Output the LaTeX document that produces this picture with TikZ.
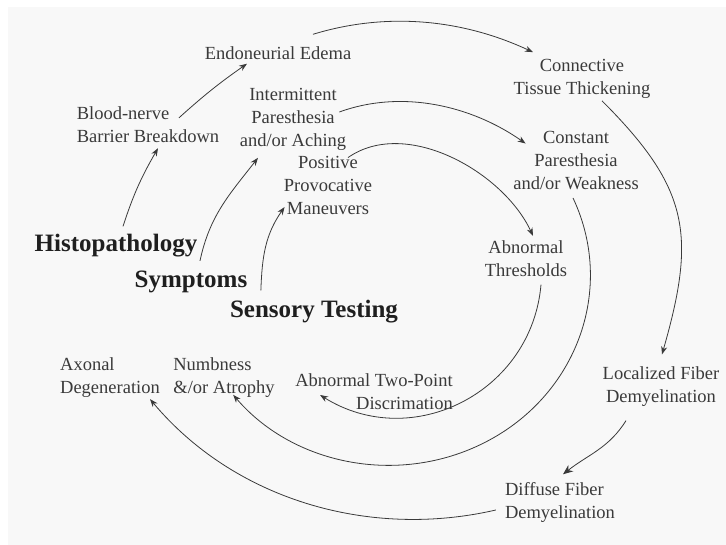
\documentclass[tikz,border=0pt]{standalone}
\usepackage{fontspec}
\setmainfont{Liberation Serif}
\usetikzlibrary{arrows.meta}
\definecolor{ink}{HTML}{3A3A3A}
\definecolor{paper}{HTML}{F8F8F8}
\tikzset{
	stage/.style={text=ink, align=center, inner sep=1pt, font=\fontsize{18.5}{23}\selectfont},
	track/.style={text=black!88, inner sep=1pt, font=\fontsize{25}{28}\selectfont\bfseries},
	flow/.style={draw=ink, line width=0.8pt, -{Stealth[length=8pt,width=6pt]}},
}

\begin{document}
\begin{tikzpicture}[x=1pt, y=1pt]
		\fill[white] (0,0) rectangle (726,-545);
		\fill[paper] (8,-7) rectangle (726,-545);
		\useasboundingbox (0,0) rectangle (726,-545);
		% outer ring
		\node[track](histo) at (116,-246){Histopathology};
		\node[stage, align=left](blood) at (148,-125){Blood-nerve\\Barrier Breakdown};
		\node[stage](endo) at (278,-53){Endoneurial Edema};
		\node[stage](conn) at (582,-79){Connective\\Tissue Thickening};
		\node[stage](local) at (661,-387){Localized Fiber\\Demyelination};
		\node[stage, align=left](diffu) at (560,-502){Diffuse Fiber\\Demyelination};
		\node[stage, align=left](axon) at (110,-378){Axonal\\Degeneration};
		% middle ring
		\node[track](sympt) at (191,-282){Symptoms};
		\node[stage](inter) at (293,-119){Intermittent\\Paresthesia\\and/or Aching};
		\node[stage](const) at (576,-161){Constant\\Paresthesia\\and/or Weakness};
		\node[stage, align=left](numb) at (224,-378){Numbness\\\&/or Atrophy};
		% inner ring
		\node[track](senso) at (314,-312){Sensory Testing};
		\node[stage](posit) at (328,-185){Positive\\Provocative\\Maneuvers};
		\node[stage](thres) at (526,-259){Abnormal\\Thresholds};
		\node[stage, align=right](twopt) at (374,-392){Abnormal Two-Point\\Discrimation};
		% outer arrows
		\draw[flow] ([shift={(7,7)}]histo.north) to[out=72, in=-120] ([shift={(10,-4)}]blood.south);
		\draw[flow] ([shift={(31,-12)}]blood.north) to[out=42, in=-145] ([shift={(-31,-3)}]endo.south);
		\draw[flow] ([shift={(35,11)}]endo.north) to[out=17, in=155, looseness=0.9] ([shift={(-49,6)}]conn.north);
		\draw[flow] ([shift={(20,-1)}]conn.south) to[out=-45, in=74, looseness=1.22] ([shift={(1,11.5)}]local.north);
		\draw[flow, -{Stealth[length=10pt,width=8pt]}] ([shift={(-35,-12.5)}]local.south) to[out=-122, in=38] ([shift={(3,6.5)}]diffu.north);
		\draw[flow] ([shift={(-8,-8)}]diffu.west) to[out=-167, in=-50, looseness=0.92] ([shift={(40,0)}]axon.south);
		% middle arrows
		\draw[flow] ([shift={(9,9)}]sympt.north) to[out=78, in=-128] ([shift={(-35,-6.5)}]inter.south);
		\draw[flow] ([shift={(-8,7)}]inter.east) to[out=20, in=145, looseness=0.9] ([shift={(13.5,-13)}]const.north west);
		\draw[flow] ([shift={(-3,-6.5)}]const.south) arc[start angle=24, end angle=-141, x radius=201, y radius=190];
		% inner arrows
		\draw[flow] ([shift={(32,9)}]senso.north west) to[out=88, in=-125] ([shift={(2,-22)}]posit.west);
		\draw[flow] ([shift={(20,-3)}]posit.north) to[out=35, in=115, looseness=0.9] ([shift={(7,4)}]thres.north);
		\draw[flow] ([shift={(15,-6.5)}]thres.south) to[out=-95, in=-32, looseness=1.12] ([shift={(26,-3)}]twopt.west);
	\end{tikzpicture}
\end{document}
